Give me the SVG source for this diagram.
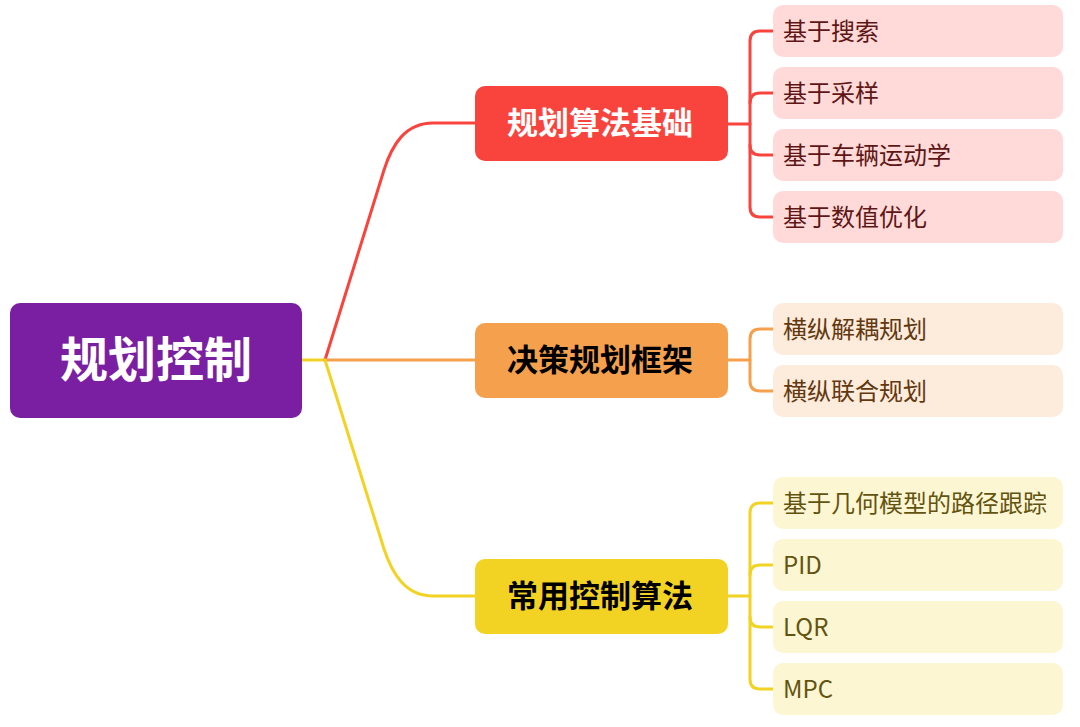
<svg xmlns="http://www.w3.org/2000/svg" width="1080" height="727" viewBox="0 0 1080 727">
<style>
text{font-family:"Noto Sans CJK SC","Noto Sans",sans-serif}
.c{fill:none;stroke-width:3;stroke-linecap:round;stroke-linejoin:round}
.main{font-size:31px;font-weight:700;text-anchor:middle}
.leaf{font-size:24px}
.r{stroke:#F9443E}.o{stroke:#F5A04D}.y{stroke:#F2D324}
.lr{fill:#FFDAD8}.lo{fill:#FDEBDC}.ly{fill:#FDF6D3}
.tr{fill:#5E1616}.to{fill:#63380F}.ty{fill:#625410}
</style>
<rect width="1080" height="727" fill="#ffffff"/>
<g id="connectors">
<path class="c y" d="M302,360 L325,360"/>
<path class="c r" d="M325,360 L384,170 C392,145 405,123 433,123 L476,123"/>
<path class="c o" d="M325,360 L476,360"/>
<path class="c y" d="M325,360 L384,549 C392,573 405,596 433,596 L476,596"/>
<path class="c r" d="M727,124 L750,124"/>
<path class="c r" d="M773,31 L760,31 Q750,31 750,41 L750,207 Q750,217 760,217 L773,217"/>
<path class="c r" d="M750,103 Q750,93 760,93 L773,93"/>
<path class="c r" d="M750,145 Q750,155 760,155 L773,155"/>
<path class="c o" d="M727,360 L750,360"/>
<path class="c o" d="M773,329 L760,329 Q750,329 750,339 L750,381 Q750,391 760,391 L773,391"/>
<path class="c y" d="M727,596 L750,596"/>
<path class="c y" d="M773,503 L760,503 Q750,503 750,513 L750,679 Q750,689 760,689 L773,689"/>
<path class="c y" d="M750,575 Q750,565 760,565 L773,565"/>
<path class="c y" d="M750,617 Q750,627 760,627 L773,627"/>
</g>
<g id="root">
<rect x="10" y="303" width="292" height="115" rx="10" fill="#7B1FA2"/>
<text x="156" y="377" font-size="48" font-weight="700" fill="#ffffff" text-anchor="middle">规划控制</text>
</g>
<g id="n1">
<rect x="475" y="86" width="253" height="75" rx="10" fill="#F9443E"/>
<text class="main" x="600" y="134" fill="#ffffff">规划算法基础</text>
</g>
<g id="n2">
<rect x="475" y="323" width="253" height="75" rx="10" fill="#F5A04D"/>
<text class="main" x="600" y="371" fill="#000000">决策规划框架</text>
</g>
<g id="n3">
<rect x="475" y="559" width="253" height="75" rx="10" fill="#F2D324"/>
<text class="main" x="600" y="607" fill="#000000">常用控制算法</text>
</g>
<g id="l1"><rect class="lr" x="773" y="5" width="290" height="52" rx="10"/><text class="leaf tr" x="783" y="40">基于搜索</text></g>
<g id="l2"><rect class="lr" x="773" y="67" width="290" height="52" rx="10"/><text class="leaf tr" x="783" y="102">基于采样</text></g>
<g id="l3"><rect class="lr" x="773" y="129" width="290" height="52" rx="10"/><text class="leaf tr" x="783" y="164">基于车辆运动学</text></g>
<g id="l4"><rect class="lr" x="773" y="191" width="290" height="52" rx="10"/><text class="leaf tr" x="783" y="226">基于数值优化</text></g>
<g id="l5"><rect class="lo" x="773" y="303" width="290" height="52" rx="10"/><text class="leaf to" x="783" y="338">横纵解耦规划</text></g>
<g id="l6"><rect class="lo" x="773" y="365" width="290" height="52" rx="10"/><text class="leaf to" x="783" y="400">横纵联合规划</text></g>
<g id="l7"><rect class="ly" x="773" y="477" width="290" height="52" rx="10"/><text class="leaf ty" x="783" y="512">基于几何模型的路径跟踪</text></g>
<g id="l8"><rect class="ly" x="773" y="539" width="290" height="52" rx="10"/><text class="leaf ty" x="783" y="574">PID</text></g>
<g id="l9"><rect class="ly" x="773" y="601" width="290" height="52" rx="10"/><text class="leaf ty" x="783" y="636">LQR</text></g>
<g id="l10"><rect class="ly" x="773" y="663" width="290" height="52" rx="10"/><text class="leaf ty" x="783" y="698">MPC</text></g>
</svg>
